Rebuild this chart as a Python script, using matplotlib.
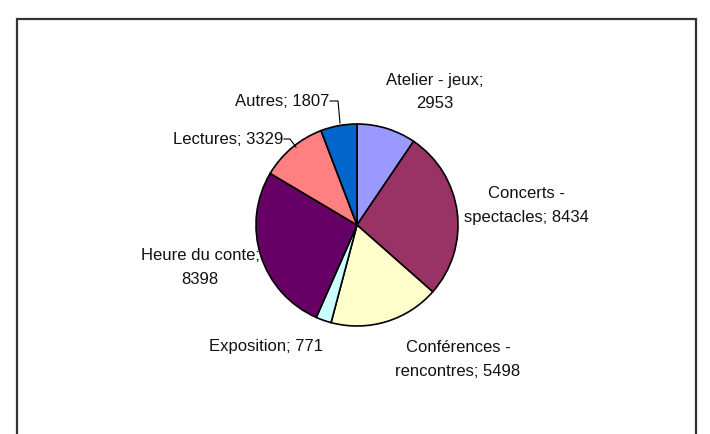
import matplotlib.pyplot as plt
from matplotlib.patches import Rectangle

plt.rcParams['font.family'] = ['Liberation Sans', 'DejaVu Sans']

# Donnees
categories = ['Atelier - jeux', 'Concerts - spectacles', 'Conférences - rencontres',
              'Exposition', 'Heure du conte', 'Lectures', 'Autres']
valeurs = [2953, 8434, 5498, 771, 8398, 3329, 1807]
couleurs = ['#9999FF', '#993366', '#FFFFCC', '#CCFFFF', '#660066', '#FF8080', '#0066CC']
etiquettes = ['Atelier - jeux;\n2953', 'Concerts -\nspectacles; 8434',
              'Conférences -\nrencontres; 5498', 'Exposition; 771',
              'Heure du conte;\n8398', 'Lectures; 3329', 'Autres; 1807']

W, H = 710, 435
fig = plt.figure(figsize=(7.1, 4.35), dpi=100)
ax = fig.add_axes([0, 0, 1, 1])

def py(y):
    # coordonnee pixel (depuis le haut) -> coordonnee axes
    return H - y

cx, cy, r = 357, 226, 101
ax.pie(valeurs, colors=couleurs, startangle=90, counterclock=False,
       center=(cx, py(cy)), radius=r, frame=True,
       wedgeprops=dict(edgecolor='black', linewidth=1.2))

# cadre du graphique
ax.add_patch(Rectangle((17, -10), 679, py(20) + 10, fill=False,
                       edgecolor='#333333', linewidth=1.6))

# etiquettes (positions en pixels)
pos = [(435, 92, 'center'), (526, 206, 'center'), (458, 360, 'center'),
       (266, 347, 'center'), (200, 267, 'center'), (283, 140, 'right'),
       (329, 102, 'right')]
for txt, (x, y, ha) in zip(etiquettes, pos):
    ax.text(x, py(y), txt, ha=ha, va='center', fontsize=12,
            color='#111111', linespacing=1.75)

# lignes de rappel
ax.plot([284, 290, 296], [py(140), py(140), py(148)], color='black', lw=0.8)
ax.plot([330, 338, 340], [py(102), py(102), py(124)], color='black', lw=0.8)

ax.set_xlim(0, W)
ax.set_ylim(0, H)
ax.set_aspect('auto')
ax.axis('off')

fig.savefig('out.png', dpi=100)
